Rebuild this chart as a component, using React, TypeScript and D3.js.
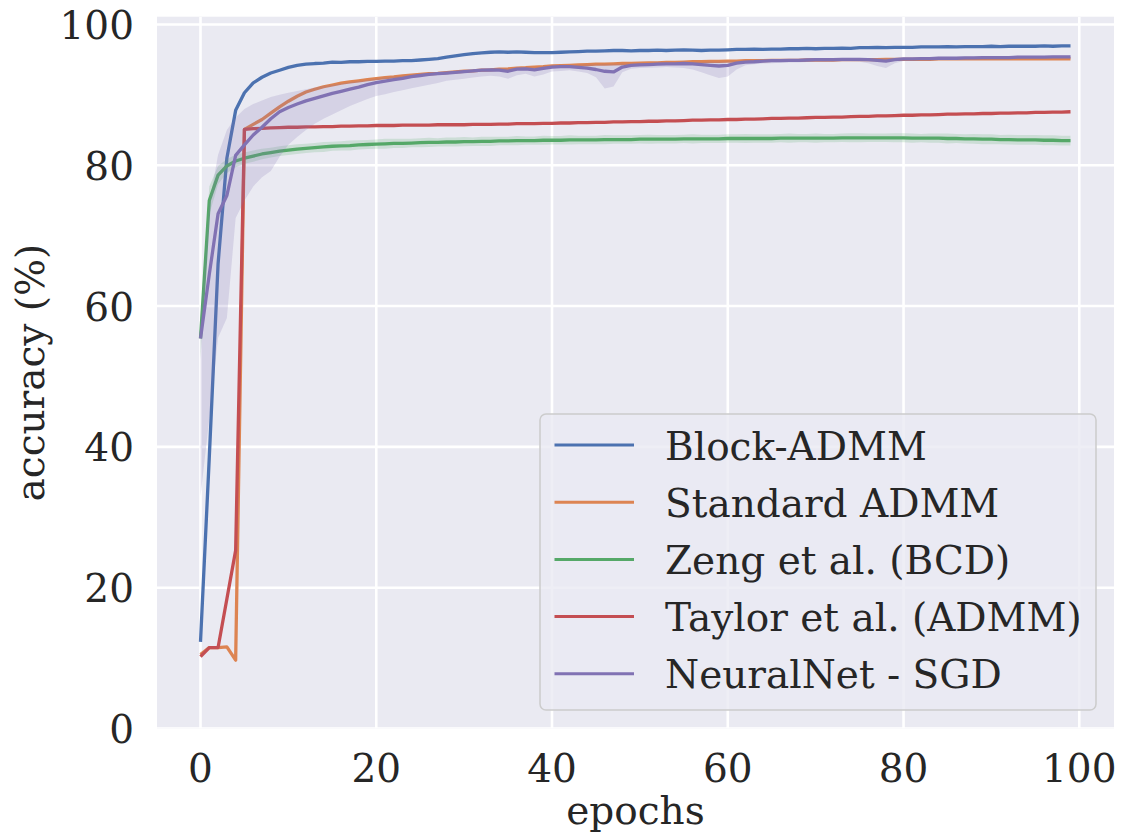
import React from 'react';
import * as d3 from 'd3';

// accuracy per epoch (0..99)
const epochs = d3.range(100);

const blockAdmm = [
  12.3, 38.5, 66.0, 81.0, 87.8, 90.3, 91.7, 92.5, 93.1, 93.5,
  93.9, 94.2, 94.35, 94.45, 94.5, 94.65, 94.6, 94.7, 94.7, 94.75,
  94.75, 94.8, 94.8, 94.85, 94.85, 94.95, 95.05, 95.15, 95.35, 95.55,
  95.7, 95.85, 95.95, 96.05, 96.1, 96.05, 96.1, 96.05, 96.0, 96.0,
  96.0, 96.05, 96.1, 96.15, 96.2, 96.2, 96.25, 96.3, 96.3, 96.25,
  96.3, 96.3, 96.35, 96.3, 96.35, 96.4, 96.35, 96.3, 96.35, 96.35,
  96.4, 96.45, 96.45, 96.5, 96.45, 96.5, 96.5, 96.55, 96.55, 96.6,
  96.55, 96.6, 96.6, 96.65, 96.6, 96.7, 96.7, 96.75, 96.7, 96.75,
  96.75, 96.75, 96.8, 96.8, 96.8, 96.85, 96.8, 96.85, 96.85, 96.85,
  96.9, 96.85, 96.9, 96.9, 96.9, 96.9, 96.95, 96.9, 96.95, 96.95,
];

const standardAdmm = [
  10.5, 11.5, 11.5, 11.6, 9.7, 85.1, 85.8, 86.5, 87.4, 88.3,
  89.1, 89.8, 90.4, 90.8, 91.15, 91.4, 91.65, 91.85, 92.0, 92.15,
  92.3, 92.45, 92.55, 92.7, 92.8, 92.9, 93.0, 93.05, 93.15, 93.25,
  93.35, 93.4, 93.5, 93.55, 93.65, 93.7, 93.8, 93.85, 93.95, 94.0,
  94.1, 94.15, 94.2, 94.25, 94.3, 94.35, 94.35, 94.4, 94.45, 94.45,
  94.5, 94.55, 94.55, 94.6, 94.6, 94.65, 94.7, 94.7, 94.75, 94.75,
  94.8, 94.8, 94.85, 94.85, 94.85, 94.9, 94.9, 94.9, 94.9, 94.95,
  94.95, 94.95, 94.95, 95.0, 95.0, 95.0, 95.0, 95.0, 95.05, 95.05,
  95.05, 95.05, 95.05, 95.05, 95.1, 95.1, 95.1, 95.1, 95.1, 95.1,
  95.1, 95.1, 95.1, 95.1, 95.1, 95.1, 95.1, 95.1, 95.1, 95.1,
];

const zengBcd = [
  55.4, 75.0, 78.6, 79.9, 80.6, 81.0, 81.3, 81.6, 81.8, 82.0,
  82.15, 82.3, 82.4, 82.5, 82.6, 82.7, 82.75, 82.8, 82.9, 82.95,
  83.0, 83.05, 83.1, 83.1, 83.15, 83.2, 83.25, 83.25, 83.3, 83.3,
  83.35, 83.35, 83.4, 83.4, 83.45, 83.45, 83.5, 83.5, 83.5, 83.55,
  83.55, 83.55, 83.6, 83.6, 83.6, 83.6, 83.65, 83.65, 83.65, 83.65,
  83.7, 83.7, 83.7, 83.7, 83.7, 83.75, 83.75, 83.75, 83.75, 83.75,
  83.8, 83.8, 83.8, 83.8, 83.8, 83.8, 83.85, 83.85, 83.85, 83.85,
  83.85, 83.85, 83.85, 83.9, 83.9, 83.9, 83.9, 83.9, 83.9, 83.9,
  83.9, 83.85, 83.85, 83.85, 83.85, 83.8, 83.8, 83.75, 83.75, 83.7,
  83.7, 83.65, 83.65, 83.6, 83.6, 83.6, 83.55, 83.55, 83.5, 83.5,
];

const zengSpread = [
  3.0, 2.0, 1.3, 1.0, 0.9, 0.8, 0.8, 0.75, 0.7, 0.7,
  0.7, 0.7, 0.65, 0.65, 0.7, 0.65, 0.65, 0.7, 0.65, 0.65,
  0.65, 0.7, 0.65, 0.65, 0.6, 0.65, 0.65, 0.6, 0.65, 0.65,
  0.65, 0.6, 0.65, 0.65, 0.6, 0.6, 0.65, 0.6, 0.6, 0.65,
  0.6, 0.6, 0.65, 0.6, 0.6, 0.6, 0.65, 0.6, 0.6, 0.6,
  0.6, 0.65, 0.6, 0.6, 0.6, 0.6, 0.65, 0.6, 0.6, 0.6,
  0.6, 0.6, 0.65, 0.6, 0.6, 0.6, 0.6, 0.65, 0.6, 0.6,
  0.65, 0.6, 0.6, 0.6, 0.65, 0.65, 0.6, 0.6, 0.6, 0.65,
  0.65, 0.65, 0.6, 0.65, 0.65, 0.7, 0.65, 0.65, 0.7, 0.7,
  0.7, 0.65, 0.7, 0.7, 0.7, 0.7, 0.7, 0.7, 0.7, 0.7,
];

const taylorAdmm = [
  10.2, 11.5, 11.5, 18.4, 25.3, 85.1, 85.2, 85.25, 85.3, 85.35,
  85.4, 85.4, 85.45, 85.45, 85.5, 85.5, 85.55, 85.55, 85.6, 85.6,
  85.65, 85.65, 85.65, 85.7, 85.7, 85.7, 85.7, 85.75, 85.75, 85.75,
  85.75, 85.8, 85.8, 85.8, 85.85, 85.85, 85.9, 85.9, 85.9, 85.95,
  85.95, 86.0, 86.0, 86.05, 86.05, 86.1, 86.1, 86.15, 86.15, 86.2,
  86.2, 86.25, 86.25, 86.3, 86.3, 86.35, 86.4, 86.4, 86.45, 86.45,
  86.5, 86.5, 86.55, 86.55, 86.6, 86.65, 86.65, 86.7, 86.7, 86.75,
  86.8, 86.8, 86.85, 86.85, 86.9, 86.95, 86.95, 87.0, 87.0, 87.05,
  87.1, 87.1, 87.15, 87.15, 87.2, 87.25, 87.25, 87.3, 87.3, 87.35,
  87.35, 87.4, 87.4, 87.45, 87.45, 87.5, 87.5, 87.55, 87.55, 87.6,
];

const neuralSgd = [
  55.4, 64.5, 73.1, 75.7, 81.4, 82.9, 84.3, 85.4, 86.6, 87.6,
  88.2, 88.7, 89.15, 89.5, 89.85, 90.2, 90.5, 90.8, 91.1, 91.45,
  91.75, 91.95, 92.15, 92.35, 92.6, 92.75, 92.9, 93.0, 93.1, 93.2,
  93.3, 93.4, 93.5, 93.55, 93.5, 93.35, 93.65, 93.7, 93.55, 93.75,
  93.95, 94.0, 94.0, 93.9, 93.8, 93.6, 93.35, 93.25, 93.95, 94.2,
  94.25, 94.3, 94.35, 94.4, 94.4, 94.45, 94.4, 94.3, 94.2, 94.1,
  94.2, 94.5, 94.65, 94.7, 94.8, 94.85, 94.85, 94.9, 94.9, 94.95,
  95.0, 95.0, 95.0, 95.05, 95.05, 95.05, 95.0, 94.9, 94.8, 95.0,
  95.1, 95.1, 95.15, 95.15, 95.2, 95.2, 95.2, 95.25, 95.25, 95.3,
  95.3, 95.3, 95.3, 95.35, 95.35, 95.35, 95.35, 95.4, 95.4, 95.4,
];

const neuralSgdLow = [
  33.0, 44.0, 55.5, 58.3, 72.5, 75.0, 77.0, 78.3, 79.2, 81.2,
  82.9, 84.0, 85.0, 85.9, 86.6, 87.2, 87.8, 88.4, 88.9, 89.4,
  89.85, 90.1, 90.4, 90.65, 90.95, 91.2, 91.45, 91.7, 92.0, 92.15,
  92.3, 92.45, 92.6, 92.7, 92.6, 92.3, 92.8, 93.0, 92.6, 92.9,
  93.3, 93.4, 93.5, 93.3, 93.1, 92.5, 90.9, 91.2, 93.2, 93.7,
  93.8, 93.85, 93.9, 93.95, 93.9, 93.8, 93.6, 93.2, 92.8, 92.4,
  92.6, 93.6, 94.2, 94.35, 94.45, 94.5, 94.55, 94.6, 94.6, 94.65,
  94.7, 94.7, 94.75, 94.75, 94.75, 94.7, 94.5, 94.1, 93.8, 94.5,
  94.8, 94.85, 94.9, 94.9, 94.95, 94.95, 95.0, 95.0, 95.05, 95.05,
  95.1, 95.1, 95.1, 95.1, 95.15, 95.15, 95.15, 95.2, 95.2, 95.2,
];

const neuralSgdHigh = [
  58.0, 74.5, 81.5, 85.0, 86.8, 88.0, 88.7, 89.2, 89.7, 90.0,
  90.3, 90.55, 90.8, 91.05, 91.25, 91.45, 91.6, 91.8, 91.95, 92.1,
  92.3, 92.45, 92.6, 92.7, 92.85, 92.95, 93.05, 93.15, 93.3, 93.4,
  93.5, 93.6, 93.65, 93.7, 93.75, 93.75, 93.85, 93.9, 93.9, 94.0,
  94.15, 94.2, 94.25, 94.25, 94.3, 94.3, 94.35, 94.35, 94.4, 94.45,
  94.5, 94.5, 94.55, 94.6, 94.6, 94.65, 94.65, 94.65, 94.7, 94.7,
  94.75, 94.8, 94.85, 94.9, 94.95, 95.0, 95.0, 95.05, 95.05, 95.1,
  95.1, 95.15, 95.15, 95.2, 95.2, 95.2, 95.2, 95.2, 95.2, 95.25,
  95.3, 95.3, 95.35, 95.35, 95.4, 95.4, 95.4, 95.45, 95.45, 95.5,
  95.5, 95.5, 95.5, 95.55, 95.55, 95.55, 95.55, 95.6, 95.6, 95.6,
];

const xTicks = [0, 20, 40, 60, 80, 100];
const yTicks = [0, 20, 40, 60, 80, 100];

const width = 1125;
const height = 835;
const plot = { left: 157, right: 1114, top: 16.7, bottom: 728.5 };
const font = "'DejaVu Serif', serif";
const textColor = '#262626';

type Series = { name: string; color: string; values: number[]; lo?: number[]; hi?: number[] };

const series: Series[] = [
  { name: 'Block-ADMM', color: '#4C72B0', values: blockAdmm },
  { name: 'Standard ADMM', color: '#DD8452', values: standardAdmm },
  {
    name: 'Zeng et al. (BCD)', color: '#55A868', values: zengBcd,
    lo: zengBcd.map((v, i) => v - zengSpread[i]), hi: zengBcd.map((v, i) => v + zengSpread[i]),
  },
  { name: 'Taylor et al. (ADMM)', color: '#C44E52', values: taylorAdmm },
  { name: 'NeuralNet - SGD', color: '#8172B3', values: neuralSgd, lo: neuralSgdLow, hi: neuralSgdHigh },
];

export default function App() {
  const x = d3.scaleLinear().domain([-4.95, 103.95]).range([plot.left, plot.right]);
  const y = d3.scaleLinear().domain([0, 101.1]).range([plot.bottom, plot.top]);

  const line = (vals: number[]) =>
    d3.line<number>().x((_, i) => x(epochs[i])).y(v => y(v))(vals) ?? '';
  const band = (lo: number[], hi: number[]) =>
    d3.area<number>().x(i => x(epochs[i])).y0(i => y(lo[i])).y1(i => y(hi[i]))(epochs) ?? '';

  // legend layout
  const leg = { x: 540, y: 414, w: 556, h: 296, row0: 445, step: 57.2 };

  return (
    <svg width={width} height={height} style={{ position: 'absolute', left: 0, top: 0, background: '#fff' }}
      fontFamily={font}>
      <defs>
        <clipPath id="plotClip">
          <rect x={plot.left} y={plot.top} width={plot.right - plot.left} height={plot.bottom - plot.top} />
        </clipPath>
      </defs>
      <rect x={plot.left} y={plot.top} width={plot.right - plot.left} height={plot.bottom - plot.top} fill="#EAEAF2" />
      <g clipPath="url(#plotClip)">
        {xTicks.map(t => (
          <line key={'gx' + t} x1={x(t)} x2={x(t)} y1={plot.top} y2={plot.bottom} stroke="#fff" strokeWidth={2.6} />
        ))}
        {yTicks.map(t => (
          <line key={'gy' + t} x1={plot.left} x2={plot.right} y1={y(t)} y2={y(t)} stroke="#fff" strokeWidth={2.6} />
        ))}
        {series.map(s => (
          <g key={s.name}>
            {s.lo && s.hi && <path d={band(s.lo, s.hi)} fill={s.color} fillOpacity={0.2} stroke="none" />}
            <path d={line(s.values)} fill="none" stroke={s.color} strokeWidth={3.3}
              strokeLinejoin="round" strokeLinecap="butt" />
          </g>
        ))}
      </g>

      {xTicks.map(t => (
        <text key={'tx' + t} x={x(t)} y={781.5} textAnchor="middle" fontSize={39} fill={textColor}>{t}</text>
      ))}
      {yTicks.map(t => (
        <text key={'ty' + t} x={134} y={y(t) + 14.5} textAnchor="end" fontSize={39} fill={textColor}>{t}</text>
      ))}
      <text x={(plot.left + plot.right) / 2} y={824} textAnchor="middle" fontSize={39} fill={textColor}>epochs</text>
      <text transform={`translate(43.5, ${(plot.top + plot.bottom) / 2}) rotate(-90)`} textAnchor="middle"
        fontSize={39} fill={textColor}>accuracy (%)</text>

      <g>
        <rect x={leg.x} y={leg.y} width={leg.w} height={leg.h} rx={6} ry={6}
          fill="#EAEAF2" fillOpacity={0.8} stroke="#CCCCCC" strokeWidth={1.5} />
        {series.map((s, i) => {
          const cy = leg.row0 + i * leg.step;
          return (
            <g key={'leg' + s.name}>
              <line x1={554.5} x2={634} y1={cy} y2={cy} stroke={s.color} strokeWidth={3} />
              <text x={665} y={cy + 14.5} fontSize={39} fill={textColor}>{s.name}</text>
            </g>
          );
        })}
      </g>
    </svg>
  );
}
